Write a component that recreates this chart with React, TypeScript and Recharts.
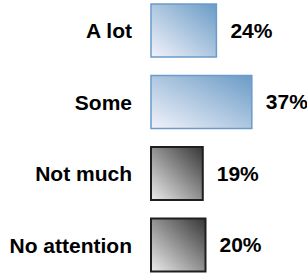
import React from 'react';
import { BarChart, Bar, XAxis, YAxis, Cell, LabelList } from 'recharts';

// Attention levels
const categories = ['A lot', 'Some', 'Not much', 'No attention'];
const shares = [24, 37, 19, 20];

const data = categories.map((name, i) => ({ name, value: shares[i] }));

const fills = ['url(#blueFill)', 'url(#blueFill)', 'url(#grayFill)', 'url(#grayFill)'];
const strokes = ['#6b9bcb', '#6b9bcb', '#1e1e1e', '#1e1e1e'];

const font = '"Liberation Sans", Arial, sans-serif';

export default function App() {
  return (
    <div style={{ position: 'absolute', left: 0, top: 0, width: 307, height: 273, overflow: 'hidden', background: '#fff' }}>
      <div style={{ position: 'absolute', left: 0, top: -5 }}>
        <BarChart
          layout="vertical"
          width={307}
          height={286}
          data={data}
          margin={{ top: 0, right: 47, bottom: 0, left: 0 }}
          barSize={53}
        >
          <defs>
            <linearGradient id="blueFill" x1="0" y1="1" x2="1" y2="0">
              <stop offset="0%" stopColor="#f2f3fa" />
              <stop offset="100%" stopColor="#6a9bc6" />
            </linearGradient>
            <linearGradient id="grayFill" x1="0" y1="1" x2="1" y2="0">
              <stop offset="0%" stopColor="#ececec" />
              <stop offset="100%" stopColor="#363636" />
            </linearGradient>
          </defs>
          <XAxis type="number" domain={[0, 40]} hide />
          <YAxis
            type="category"
            dataKey="name"
            width={151}
            axisLine={false}
            tickLine={false}
            tickSize={0}
            tickMargin={19}
            tick={{ fill: '#000', fontSize: 21, fontWeight: 'bold', fontFamily: font }}
          />
          <Bar dataKey="value" isAnimationActive={false}>
            {data.map((d, i) => (
              <Cell key={d.name} fill={fills[i]} stroke={strokes[i]} strokeWidth={i < 2 ? 1.5 : 2} />
            ))}
            <LabelList
              dataKey="value"
              position="right"
              offset={14}
              formatter={(v: any) => `${v}%`}
              style={{ fill: '#000', fontSize: 21, fontWeight: 'bold', fontFamily: font }}
            />
          </Bar>
        </BarChart>
      </div>
    </div>
  );
}
